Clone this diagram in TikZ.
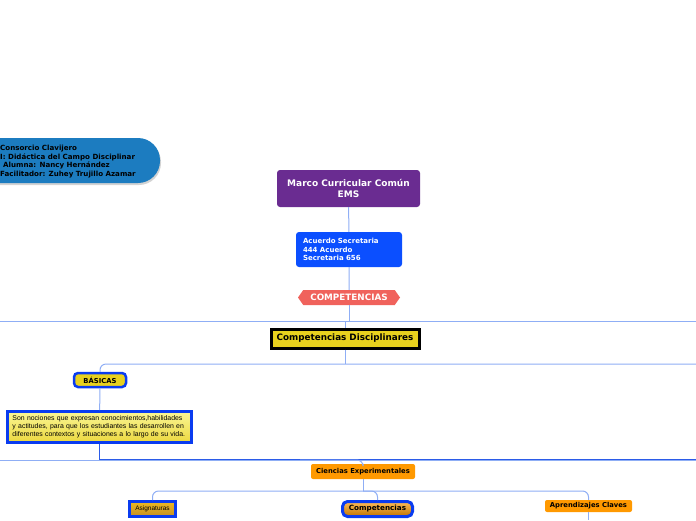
\documentclass[tikz,border=0pt]{standalone}
\usepackage{fontspec}
\setmainfont{DejaVu Sans}
\newfontfamily\arialfont{Liberation Sans}
\usetikzlibrary{shapes.symbols,shadows}
\definecolor{pillblue}{HTML}{1C7CC0}
\definecolor{mcpurple}{HTML}{6A2C91}
\definecolor{acblue}{HTML}{0B4FFF}
\definecolor{salmon}{HTML}{F0625C}
\definecolor{cdyellow}{HTML}{E8D11E}
\definecolor{boxblue}{HTML}{0A3CF0}
\definecolor{mmorange}{HTML}{FF9900}
\definecolor{asgold}{HTML}{E8A82A}
\definecolor{linklight}{HTML}{8FAEF5}
\definecolor{linkdark}{HTML}{2B5BE8}
\begin{document}
\begin{tikzpicture}[x=1pt,y=-1pt,
    box/.style={inner sep=0pt,font=\bfseries\fontsize{6.8}{8}\selectfont,align=center},
    link/.style={draw=linklight,line width=1pt,rounded corners=6pt},
    darklink/.style={draw=linkdark,line width=1pt}]
      \useasboundingbox (0,0) rectangle (696,520);
      % header
      \node[fill=pillblue,rounded corners=22pt,minimum width=200pt,minimum height=45pt,
        drop shadow={opacity=0.35,shadow xshift=1pt,shadow yshift=-2pt}] (pill) at (60,160.5) {};
      \node[anchor=west,inner sep=0pt,align=left,font=\bfseries\fontsize{7.1}{8.7}\selectfont] (info) at (0,161.5) {Consorcio Clavijero\\I: Didáctica del Campo Disciplinar\\\hspace{3pt}Alumna: Nancy Hernández\\Facilitador: Zuhey Trujillo Azamar};
      % main column
      \node[box,fill=mcpurple,text=white,rounded corners=3pt,minimum width=143pt,minimum height=37pt,
        font=\bfseries\fontsize{9}{11}\selectfont] (mcc) at (348.5,188.5) {Marco Curricular Común\\EMS};
      \node[box,fill=acblue,text=white,rounded corners=3pt,minimum width=106pt,minimum height=35pt,
        text width=92pt,align=left,font=\bfseries\fontsize{7}{8.5}\selectfont] (acu) at (349,249.5) {Acuerdo Secretaria\\444 Acuerdo\\Secretaria 656};
      \node[box,signal,signal to=west and east,signal pointer angle=110,fill=salmon,text=white,
        minimum width=102pt,minimum height=15pt,font=\bfseries\fontsize{8.8}{10}\selectfont] (comp) at (349,297.5) {COMPETENCIAS};
      \node[box,fill=cdyellow,draw=black,line width=3pt,minimum width=148pt,minimum height=19pt,
        font=\bfseries\fontsize{8.8}{10}\selectfont] (cd) at (345,338.5) {Competencias Disciplinares};
      \node[box,fill=cdyellow,draw=boxblue,line width=2.5pt,rounded corners=4pt,
        minimum width=52pt,minimum height=14pt] (bas) at (100,380) {BÁSICAS};
      \node[box,top color=yellow!30!white!80!cdyellow,bottom color=cdyellow!85!white,draw=boxblue,line width=3pt,
        minimum width=184pt,minimum height=31pt,text width=174pt,align=left,
        font=\arialfont\fontsize{6.9}{8.2}\selectfont] (desc) at (99.5,427) {Son nociones que expresan conocimientos,habilidades y actitudes, para que los estudiantes las desarrollen en diferentes contextos y situaciones a lo largo de su vida.};
      \node[box,fill=mmorange,rounded corners=2pt,minimum width=104pt,minimum height=15pt] (ce) at (363,471.5) {Ciencias Experimentales};
      \node[box,top color=asgold!80!yellow,bottom color=asgold!85!black,draw=boxblue,line width=3pt,
        minimum width=46pt,minimum height=15pt,font=\arialfont\fontsize{6.5}{8}\selectfont] (asig) at (152.5,509) {Asignaturas};
      \node[box,top color=mmorange!65!white,bottom color=mmorange!75!black,draw=boxblue,line width=3pt,
        rounded corners=5pt,minimum width=70pt,minimum height=15pt,font=\bfseries\fontsize{7.2}{9}\selectfont] (comp2) at (377.5,509) {Competencias};
      \node[box,fill=mmorange,rounded corners=2pt,minimum width=87pt,minimum height=12pt] (apr) at (588.5,506) {Aprendizajes Claves};
      % free ends
      \coordinate (l1) at (0,321);
      \coordinate (r1) at (696,321);
      \coordinate (r2) at (696,364);
      \coordinate (l3) at (0,460);
      \coordinate (r3) at (696,460);
      \coordinate (r4) at (696,459);
      \coordinate (aprend) at (588.5,520);
      % connectors
      \draw[link] (mcc) -- (acu);
      \draw[link] (acu) -- (comp);
      \draw[link] (comp.south) -- (349,321);
      \draw[link] (l1) -- (r1);
      \draw[link] (345,321) -- (cd.north);
      \draw[link] (cd.south) -- (345,364);
      \draw[link] (bas.north) |- (r2);
      \draw[link] (bas) -- (desc);
      \draw[link] (l3) -- (r3);
      \draw[darklink] (desc.south) |- (r4);
      \draw[link] (ce.north) |- (300,460);
      \draw[link] (ce.south) -- (363,491);
      \draw[link] (asig.north) |- (363,491);
      \draw[link] (comp2.north) |- (363,491);
      \draw[link] (apr.north) |- (363,491);
      \draw[link] (apr) -- (aprend);
    \end{tikzpicture}
\end{document}
